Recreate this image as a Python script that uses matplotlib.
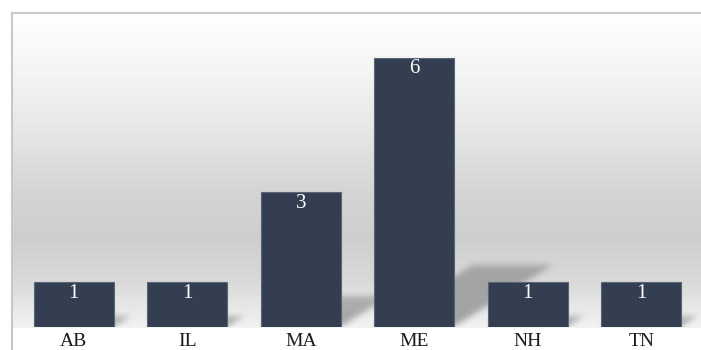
import numpy as np
import matplotlib
matplotlib.use("Agg")
import matplotlib.pyplot as plt
from matplotlib.colors import LinearSegmentedColormap
from matplotlib.lines import Line2D

plt.rcParams['font.family'] = ['Liberation Serif', 'DejaVu Serif']

# data
states = ['AB', 'IL', 'MA', 'ME', 'NH', 'TN']
counts = [1, 1, 3, 6, 1, 1]

W, H = 701, 350
bar_color = '#333f50'
bar_w = 0.705

fig = plt.figure(figsize=(W / 100, H / 100), dpi=100)

# background gradient panel (white top, grey middle, lighter at floor)
bg = fig.add_axes([12 / W, 22 / H, (W - 10) / W, 315 / H])
grad_cmap = LinearSegmentedColormap.from_list('bg', [
    (0.00, (0.95, 0.95, 0.95)),
    (0.15, (0.85, 0.85, 0.85)),
    (0.28, (0.81, 0.81, 0.81)),
    (0.42, (0.83, 0.83, 0.83)),
    (0.62, (0.90, 0.90, 0.90)),
    (0.82, (0.96, 0.96, 0.96)),
    (1.00, (1.00, 1.00, 1.00)),
])
bg.imshow(np.linspace(0, 1, 256).reshape(-1, 1), cmap=grad_cmap, aspect='auto',
          origin='lower', extent=(0, 1, 0, 1), vmin=0, vmax=1)
bg.set_axis_off()

# bar axes
ax = fig.add_axes([17 / W, 23 / H, 681 / W, 314 / H])
ax.patch.set_alpha(0)
ax.set_xlim(-0.5, len(states) - 0.5)
ax.set_ylim(0, 7)

# perspective floor shadows, blurred
sx, sy = 0.1455, 0.23  # shadow shift per unit of height (x, y in data units)
nx, ny = 681, 314
xs = np.linspace(-0.5, len(states) - 0.5, nx)
ys = np.linspace(0, 7, ny)
X, Y = np.meshgrid(xs, ys)
shade = np.zeros_like(X)
for i, v in enumerate(counts):
    top = sy * v
    t = Y / top
    xr = X - t * sx * v
    m = (Y <= top) & (xr >= i - bar_w / 2) & (xr <= i + bar_w / 2)
    shade = np.maximum(shade, m * (1 - 0.3 * np.clip(t, 0, 1)))
k = np.exp(-0.5 * (np.arange(-9, 10) / 3.0) ** 2)
k /= k.sum()
shade = np.apply_along_axis(lambda r: np.convolve(r, k, mode='same'), 1, shade)
shade = np.apply_along_axis(lambda c: np.convolve(c, k, mode='same'), 0, shade)
rgba = np.zeros((ny, nx, 4))
rgba[..., 3] = 0.32 * shade
ax.imshow(rgba, extent=(-0.5, len(states) - 0.5, 0, 7), origin='lower',
          aspect='auto', zorder=1, interpolation='bilinear')

bars = ax.bar(range(len(states)), counts, width=bar_w, color=bar_color,
              edgecolor='#5a6578', linewidth=0.8, zorder=2)

for i, v in enumerate(counts):
    ax.annotate(str(v), (i, v), xytext=(0, -1), textcoords='offset points',
                ha='center', va='top', color='white', fontsize=15, zorder=3)

ax.set_xticks(range(len(states)), states)
ax.set_yticks([])
ax.tick_params(axis='x', length=0, pad=4, labelsize=14, labelcolor='#1a1a1a')
for s in ax.spines.values():
    s.set_visible(False)

# chart frame (cut off at right and bottom)
fig.add_artist(Line2D([11.5 / W, 11.5 / W], [0, (H - 13) / H], color='#c8c8c8', lw=1.5))
fig.add_artist(Line2D([11.5 / W, 1], [(H - 13) / H, (H - 13) / H], color='#c8c8c8', lw=1.5))

fig.savefig('out.png', dpi=100)
